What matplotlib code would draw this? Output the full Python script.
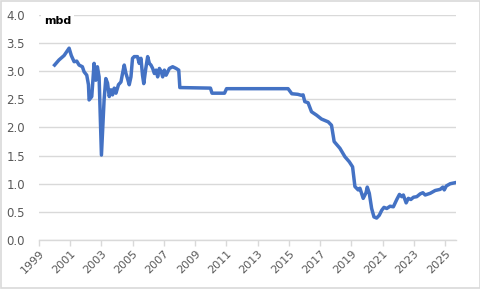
import matplotlib
matplotlib.use("Agg")
import matplotlib.pyplot as plt
from matplotlib.patches import Rectangle

# production, million barrels per day
years = [2000.0, 2000.28, 2000.61, 2000.93, 2001.07, 2001.25, 2001.42, 2001.57, 2001.78, 2001.89,
         2002.06, 2002.17, 2002.21, 2002.38, 2002.53, 2002.64, 2002.74, 2002.85, 2003.0, 2003.17,
         2003.28, 2003.39, 2003.5, 2003.61, 2003.71, 2003.82, 2003.93, 2004.09, 2004.25, 2004.35,
         2004.46, 2004.57, 2004.67, 2004.78, 2004.89, 2004.99, 2005.1, 2005.31, 2005.42, 2005.53,
         2005.63, 2005.71, 2005.84, 2005.96, 2006.07, 2006.17, 2006.28, 2006.39, 2006.5, 2006.6,
         2006.71, 2006.82, 2006.92, 2007.03, 2007.14, 2007.35, 2007.56, 2007.78, 2007.95, 2008.02,
         2009.98, 2010.08, 2010.88, 2011.01, 2014.95, 2015.19, 2015.57, 2015.83, 2015.91, 2016.02,
         2016.23, 2016.45, 2016.77, 2017.09, 2017.52, 2017.73, 2017.9, 2018.27, 2018.59, 2018.87,
         2019.08, 2019.23, 2019.44, 2019.55, 2019.76, 2019.94, 2020.02, 2020.15, 2020.3, 2020.45,
         2020.62, 2020.79, 2020.95, 2021.09, 2021.27, 2021.48, 2021.69, 2021.91, 2022.08, 2022.23,
         2022.33, 2022.51, 2022.65, 2022.81, 2022.98, 2023.19, 2023.41, 2023.58, 2023.73, 2024.05,
         2024.37, 2024.69, 2024.86, 2024.95, 2025.08, 2025.33, 2025.67]
mbd = [3.11, 3.20, 3.28, 3.41, 3.28, 3.17, 3.18, 3.11, 3.08, 2.99,
       2.93, 2.76, 2.49, 2.55, 3.14, 2.84, 3.08, 2.90, 1.51, 2.49,
       2.87, 2.79, 2.55, 2.67, 2.58, 2.70, 2.61, 2.76, 2.81, 2.96,
       3.11, 2.96, 2.87, 2.76, 2.90, 3.23, 3.26, 3.26, 3.14, 3.23,
       2.93, 2.78, 3.05, 3.26, 3.14, 3.11, 3.05, 2.96, 3.02, 2.90,
       3.05, 3.00, 2.90, 3.02, 2.93, 3.05, 3.08, 3.05, 3.02, 2.71,
       2.70, 2.61, 2.61, 2.69, 2.69, 2.60, 2.59, 2.57, 2.58, 2.46,
       2.44, 2.28, 2.22, 2.15, 2.10, 2.04, 1.75, 1.63, 1.48, 1.39,
       1.30, 0.95, 0.89, 0.92, 0.74, 0.84, 0.94, 0.83, 0.56, 0.41,
       0.39, 0.44, 0.53, 0.58, 0.56, 0.60, 0.59, 0.72, 0.81, 0.77,
       0.80, 0.66, 0.74, 0.72, 0.76, 0.77, 0.82, 0.84, 0.80, 0.83,
       0.88, 0.90, 0.94, 0.89, 0.96, 1.00, 1.02]

xticks = list(range(1999, 2026, 2))
yticks = [0.0, 0.5, 1.0, 1.5, 2.0, 2.5, 3.0, 3.5, 4.0]

plt.rcParams['font.family'] = ['DejaVu Sans']

fig = plt.figure(figsize=(4.81, 2.89), dpi=100)
ax = fig.add_axes([0.081, 0.1696, 0.866, 0.7785])

ax.plot(years, mbd, color='#4472C4', lw=2.5, solid_joinstyle='round', zorder=3)

ax.set_xlim(1999, 2025.67)
ax.set_ylim(0, 4.0)
ax.set_yticks(yticks)
ax.set_yticklabels(['{:.1f}'.format(v) for v in yticks])
ax.set_xticks(xticks)
ax.set_xticklabels([str(y) for y in xticks], rotation=45, ha='right', rotation_mode='anchor')

grid_col = '#d9d9d9'
ax.yaxis.grid(True, color=grid_col, linewidth=1.0, linestyle='-')
ax.set_axisbelow(True)

for side in ['left', 'right', 'top']:
    ax.spines[side].set_visible(False)
ax.spines['bottom'].set_color(grid_col)
ax.spines['bottom'].set_linewidth(1.0)
ax.tick_params(axis='x', colors=grid_col, direction='out', length=4, width=1.0, labelcolor='#595959', labelsize=8, pad=2)
ax.tick_params(axis='y', length=0, labelcolor='#595959', labelsize=8.5, pad=10)

ax.text(0.012, 0.975, 'mbd', transform=ax.transAxes, fontsize=8, fontweight='bold', color='black',
        va='center', ha='left', zorder=4, bbox=dict(facecolor='white', edgecolor='none', pad=2))

fig.patches.append(Rectangle((0.002, 0.003), 0.996, 0.994, transform=fig.transFigure, fill=False,
                             edgecolor=grid_col, lw=1.2))

fig.savefig('out.png', dpi=100)
